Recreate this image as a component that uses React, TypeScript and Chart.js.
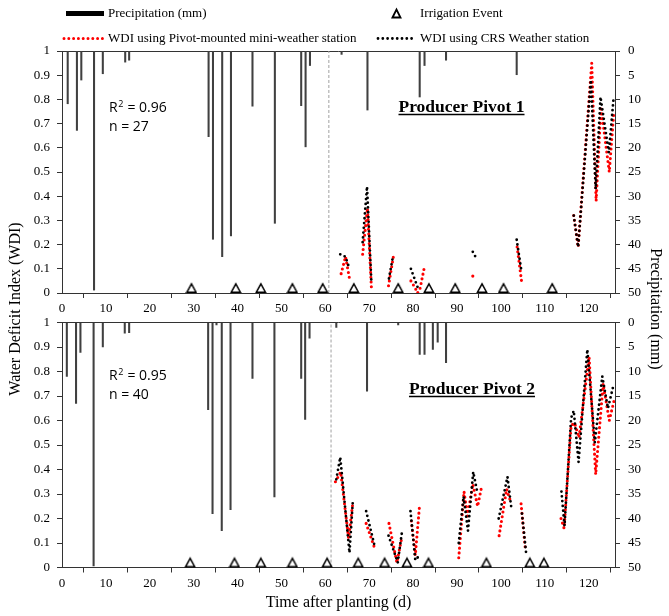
import React, { useEffect, useRef } from 'react';
import { Chart, registerables } from 'chart.js';

Chart.register(...registerables);

type Pt = [number, number] | null;

// ---------------- data ----------------
const dayAxisMax = 126;
const dayStep = 10;
const wdiMax = 1;
const wdiStep = 0.1;
const precipAxisMax = 50;
const precipStep = 5;

// Producer Pivot 1
const pivot1PrecipDays = [1.3, 3.4, 4.4, 7.3, 9.3, 14.4, 15.3, 33.4, 34.4, 36.5, 38.5, 43.4, 48.5, 54.5, 55.5, 56.5, 63.7, 69.6, 81.5, 82.6, 87.5, 103.6];
const pivot1PrecipMm = [10.9, 16.4, 6.0, 49.4, 4.7, 2.3, 1.9, 17.7, 38.9, 42.5, 38.2, 11.4, 35.6, 11.3, 19.8, 3.0, 0.7, 12.2, 9.5, 3.0, 1.9, 4.9];
const pivot1IrrigationDays = [29.5, 39.6, 45.3, 52.5, 59.4, 66.5, 76.6, 83.6, 89.6, 95.7, 100.6, 111.7];
const pivot1WdiPivotStation: Pt[] = [
  [63.6, 0.08], [64.6, 0.15], [65.5, 0.06], null,
  [68.5, 0.16], [69.6, 0.35], [70.5, 0.02], null,
  [74.4, 0.03], [75.5, 0.15], null,
  [79.5, 0.05], [80.5, 0.02], [81.0, 0.0], [81.6, 0.02], [82.6, 0.11], null,
  [93.6, 0.07], null,
  [103.7, 0.19], [104.7, 0.05], null,
  [116.6, 0.32], [117.6, 0.19], [120.7, 0.95], [121.7, 0.38], [122.8, 0.77], [124.7, 0.50], [125.7, 0.74],
];
const pivot1WdiCrsStation: Pt[] = [
  [63.4, 0.16], [64.6, 0.15], [65.5, 0.10], null,
  [68.5, 0.21], [69.5, 0.44], [70.5, 0.04], null,
  [74.5, 0.06], [75.3, 0.14], null,
  [79.5, 0.10], [80.5, 0.05], [81.3, 0.01], null,
  [93.6, 0.17], [94.2, 0.15], null,
  [103.6, 0.22], [104.6, 0.10], null,
  [116.6, 0.32], [117.6, 0.19], [120.5, 0.88], [121.6, 0.43], [122.7, 0.81], [124.6, 0.58], [125.7, 0.81],
];
const pivot1StartDay = 60.8;
const pivot1R2 = '0.96';
const pivot1N = '27';

// Producer Pivot 2
const pivot2PrecipDays = [1.1, 3.2, 4.2, 7.2, 9.3, 14.3, 15.3, 33.3, 34.3, 35.2, 36.4, 38.4, 43.4, 48.4, 54.5, 55.4, 56.4, 62.5, 69.5, 76.6, 81.5, 82.6, 84.5, 85.6, 87.5];
const pivot2PrecipMm = [11.0, 16.5, 6.1, 49.7, 5.0, 2.2, 2.1, 17.8, 39.0, 0.5, 42.5, 38.2, 11.4, 35.6, 11.4, 19.8, 3.2, 1.0, 14.0, 0.5, 6.5, 6.5, 5.5, 4.0, 8.2];
const pivot2IrrigationDays = [29.2, 39.3, 45.3, 52.5, 60.4, 67.5, 73.5, 78.6, 83.5, 96.7, 106.6, 109.8];
const pivot2WdiPivotStation: Pt[] = [
  [62.3, 0.35], [63.5, 0.39], [65.3, 0.12], [66.3, 0.27], null,
  [69.3, 0.18], [71.4, 0.07], null,
  [74.5, 0.18], [76.3, 0.02], [77.4, 0.12], null,
  [79.6, 0.19], [80.5, 0.05], [81.5, 0.26], null,
  [90.4, 0.04], [91.6, 0.31], [92.4, 0.21], [93.6, 0.34], [94.7, 0.25], [95.5, 0.32], null,
  [99.6, 0.13], [101.3, 0.32], [102.2, 0.27], null,
  [104.6, 0.26], [105.6, 0.07], null,
  [113.7, 0.20], [114.4, 0.16], [116.0, 0.58], [116.8, 0.59], [117.8, 0.53], [120.1, 0.86], [121.6, 0.38], [123.3, 0.75], [124.7, 0.60], [125.9, 0.69],
];
const pivot2WdiCrsStation: Pt[] = [
  [62.5, 0.36], [63.4, 0.45], [65.5, 0.06], [66.3, 0.28], null,
  [69.3, 0.23], [71.2, 0.09], null,
  [74.4, 0.13], [76.5, 0.02], [77.5, 0.15], null,
  [79.4, 0.23], [80.5, 0.03], [81.5, 0.05], null,
  [90.4, 0.10], [91.5, 0.29], [92.5, 0.15], [93.7, 0.39], [94.6, 0.31], null,
  [99.5, 0.20], [101.5, 0.37], [102.4, 0.24], null,
  [104.8, 0.22], [105.8, 0.05], null,
  [113.8, 0.31], [114.5, 0.17], [116.0, 0.61], [116.6, 0.64], [117.7, 0.43], [119.7, 0.89], [121.4, 0.51], [123.1, 0.78], [124.4, 0.65], [125.6, 0.74],
];
const pivot2StartDay = 61.3;
const pivot2R2 = '0.95';
const pivot2N = '40';

// ---------------- styling / layout ----------------
const W = 669;
const H = 616;
const SERIF = "'Liberation Serif', 'Times New Roman', serif";
const SANS = "'Open Sans', 'Liberation Sans', sans-serif";
const AX = '#333';
const RED = '#ff0000';
const BLACK = '#000000';
const BAR = '#404040';
const LEFT_W = 62;
const RIGHT_W = 54;
const X_AXIS_H = 23;

interface Panel {
  top: number;
  bottom: number;
  precipDays: number[];
  precipMm: number[];
  irrigation: number[];
  red: Pt[];
  black: Pt[];
  startDay: number;
  r2: string;
  n: string;
  title: string;
  titleX: number;
  titleY: number;
  underlineY: number;
  statsY: number;
  first: boolean;
}

const panels: Panel[] = [
  {
    top: 51, bottom: 293, precipDays: pivot1PrecipDays, precipMm: pivot1PrecipMm,
    irrigation: pivot1IrrigationDays, red: pivot1WdiPivotStation, black: pivot1WdiCrsStation,
    startDay: pivot1StartDay, r2: pivot1R2, n: pivot1N, title: 'Producer Pivot 1',
    titleX: 461.5, titleY: 107.5, underlineY: 114.5, statsY: 108, first: true,
  },
  {
    top: 322.5, bottom: 567.5, precipDays: pivot2PrecipDays, precipMm: pivot2PrecipMm,
    irrigation: pivot2IrrigationDays, red: pivot2WdiPivotStation, black: pivot2WdiCrsStation,
    startDay: pivot2StartDay, r2: pivot2R2, n: pivot2N, title: 'Producer Pivot 2',
    titleX: 472, titleY: 389, underlineY: 396.5, statsY: 376, first: false,
  },
];

function toXY(arr: Pt[]) {
  const out: { x: number; y: number | null }[] = [];
  let lastX = 0;
  for (const p of arr) {
    if (p) { out.push({ x: p[0], y: p[1] }); lastX = p[0]; }
    else out.push({ x: lastX, y: null });
  }
  return out;
}

function isolatedRadius(data: { x: number; y: number | null }[], r: number) {
  return data.map((p, i) => {
    if (p.y === null) return 0;
    const prevGap = i === 0 || data[i - 1].y === null;
    const nextGap = i === data.length - 1 || data[i + 1].y === null;
    return prevGap && nextGap ? r : 0;
  });
}

function triangleImage() {
  const c = document.createElement('canvas');
  c.width = 12;
  c.height = 24;
  const g = c.getContext('2d')!;
  g.beginPath();
  g.moveTo(1.5, 11.2);
  g.lineTo(6, 2.8);
  g.lineTo(10.5, 11.2);
  g.closePath();
  g.fillStyle = '#fff';
  g.fill();
  g.lineWidth = 1.5;
  g.lineJoin = 'miter';
  g.strokeStyle = '#000';
  g.stroke();
  return c;
}

function drawTri(ctx: CanvasRenderingContext2D, cx: number, cy: number) {
  ctx.save();
  ctx.beginPath();
  ctx.moveTo(cx - 4, cy + 4);
  ctx.lineTo(cx, cy - 4);
  ctx.lineTo(cx + 4, cy + 4);
  ctx.closePath();
  ctx.fillStyle = '#fff';
  ctx.fill();
  ctx.lineWidth = 1.8;
  ctx.strokeStyle = '#000';
  ctx.stroke();
  ctx.restore();
}

function dotted(ctx: CanvasRenderingContext2D, x1: number, x2: number, y: number, color: string, w: number) {
  ctx.save();
  ctx.strokeStyle = color;
  ctx.lineWidth = w;
  ctx.lineCap = 'round';
  ctx.setLineDash([0, 4.8]);
  ctx.beginPath();
  ctx.moveTo(x1, y);
  ctx.lineTo(x2, y);
  ctx.stroke();
  ctx.restore();
}

function fmtTick(v: number) {
  return String(Math.round(v * 10) / 10);
}

function makePanel(canvas: HTMLCanvasElement, p: Panel): Chart {
  const tri = triangleImage();
  const redData = toXY(p.red);
  const blackData = toXY(p.black);

  const decor = {
    id: 'decor' + (p.first ? '1' : '2'),
    beforeDatasetsDraw(chart: any) {
      const { ctx, chartArea } = chart;
      ctx.save();
      ctx.strokeStyle = AX;
      ctx.lineWidth = 1;
      const y = Math.round(chartArea.top - 0.5) + 0.5;
      ctx.beginPath();
      ctx.moveTo(chartArea.left, y);
      ctx.lineTo(chartArea.right + 0.5, y);
      ctx.stroke();
      ctx.restore();
    },
    afterDraw(chart: any) {
      const ctx: CanvasRenderingContext2D = chart.ctx;
      ctx.save();
      ctx.fillStyle = '#000';
      ctx.textBaseline = 'middle';
      ctx.textAlign = 'left';
      // stats
      ctx.font = `14px ${SANS}`;
      const x0 = 109;
      ctx.fillText('R', x0, p.statsY);
      const rw = ctx.measureText('R').width;
      ctx.font = `9px ${SANS}`;
      ctx.fillText('2', x0 + rw + 0.5, p.statsY - 4);
      const sw = ctx.measureText('2').width;
      ctx.font = `14px ${SANS}`;
      ctx.fillText(' = ' + p.r2, x0 + rw + sw + 1, p.statsY);
      ctx.fillText('n = ' + p.n, x0, p.statsY + 19.5);
      // panel title
      ctx.font = `bold 17.5px ${SERIF}`;
      ctx.textAlign = 'center';
      ctx.fillText(p.title, p.titleX, p.titleY);
      const tw = ctx.measureText(p.title).width;
      ctx.strokeStyle = '#000';
      ctx.lineWidth = 1.3;
      ctx.beginPath();
      ctx.moveTo(p.titleX - tw / 2, p.underlineY);
      ctx.lineTo(p.titleX + tw / 2, p.underlineY);
      ctx.stroke();

      if (p.first) {
        // legend
        ctx.textAlign = 'left';
        ctx.font = `13px ${SERIF}`;
        ctx.fillRect(66, 11, 38, 5);
        ctx.fillText('Precipitation (mm)', 108, 13.5);
        drawTri(ctx, 396.5, 13.5);
        ctx.fillText('Irrigation Event', 420, 13.5);
        dotted(ctx, 64, 104, 38.5, RED, 3);
        ctx.fillText('WDI using Pivot-mounted mini-weather station', 108, 38.5);
        dotted(ctx, 378, 416, 38.5, BLACK, 2.8);
        ctx.fillText('WDI using CRS Weather station', 420, 38.5);
        // axis titles spanning both panels
        ctx.font = `16px ${SERIF}`;
        ctx.textAlign = 'center';
        ctx.save();
        ctx.translate(16, 309);
        ctx.rotate(-Math.PI / 2);
        ctx.fillText('Water Deficit Index (WDI)', 0, 0);
        ctx.restore();
        ctx.save();
        ctx.translate(655, 309);
        ctx.rotate(Math.PI / 2);
        ctx.fillText('Precipitation (mm)', 0, 0);
        ctx.restore();
      } else {
        ctx.font = `16px ${SERIF}`;
        ctx.textAlign = 'center';
        ctx.fillText('Time after planting (d)', (chart.chartArea.left + chart.chartArea.right) / 2, 603);
      }
      ctx.restore();
    },
  };

  const tickFont = { family: SERIF, size: 13 };
  const grid = { drawOnChartArea: false, drawTicks: true, tickLength: 5, color: AX, lineWidth: 1 };
  const border = { display: true, color: AX, width: 1 };

  return new Chart(canvas, {
    type: 'scatter',
    data: {
      datasets: [
        {
          type: 'line',
          label: 'WDI using CRS Weather station',
          data: blackData,
          xAxisID: 'x', yAxisID: 'y',
          borderColor: BLACK, borderWidth: 2.8, borderDash: [0, 4.8], borderCapStyle: 'round',
          pointRadius: isolatedRadius(blackData, 1.5), pointBackgroundColor: BLACK, pointBorderWidth: 0,
          spanGaps: false, tension: 0, order: 1,
        },
        {
          type: 'line',
          label: 'WDI using Pivot-mounted mini-weather station',
          data: redData,
          xAxisID: 'x', yAxisID: 'y',
          borderColor: RED, borderWidth: 3.1, borderDash: [0, 4.8], borderCapStyle: 'round',
          pointRadius: isolatedRadius(redData, 1.6), pointBackgroundColor: RED, pointBorderWidth: 0,
          spanGaps: false, tension: 0, order: 2,
        },
        {
          type: 'scatter',
          label: 'Irrigation Event',
          data: p.irrigation.map((d) => ({ x: d, y: 0 })),
          xAxisID: 'x', yAxisID: 'y',
          pointStyle: tri as any, pointRadius: 6, clip: false as any, order: 3,
        },
        {
          type: 'line',
          label: 'start',
          data: [{ x: p.startDay, y: 0 }, { x: p.startDay, y: wdiMax }],
          xAxisID: 'x', yAxisID: 'y',
          borderColor: '#a0a0a0', borderWidth: 1, borderDash: [3, 2], pointRadius: 0, order: 4,
        },
        {
          type: 'bar',
          label: 'Precipitation (mm)',
          data: p.precipDays.map((d, i) => ({ x: d, y: p.precipMm[i] })),
          xAxisID: 'x', yAxisID: 'yP',
          backgroundColor: BAR, borderWidth: 0, barThickness: 1.4, grouped: false, order: 5,
        } as any,
      ],
    } as any,
    options: {
      animation: false,
      responsive: false,
      maintainAspectRatio: false,
      devicePixelRatio: 1,
      events: [],
      layout: { padding: { top: p.top, bottom: H - p.bottom - X_AXIS_H, left: 0, right: 0 } },
      plugins: { legend: { display: false }, tooltip: { enabled: false } },
      scales: {
        x: {
          type: 'linear', position: 'bottom', min: 0, max: dayAxisMax, offset: false,
          ticks: { stepSize: dayStep, includeBounds: false, autoSkip: false, maxRotation: 0, padding: 3, color: '#000', font: tickFont },
          grid, border,
          afterFit: (s: any) => { s.height = X_AXIS_H; },
        },
        y: {
          type: 'linear', position: 'left', min: 0, max: wdiMax,
          ticks: { stepSize: wdiStep, includeBounds: false, padding: 7, color: '#000', font: tickFont, callback: (v: any) => fmtTick(Number(v)) },
          grid, border,
          afterFit: (s: any) => { s.width = LEFT_W; },
        },
        yP: {
          type: 'linear', position: 'right', min: 0, max: precipAxisMax, reverse: true,
          ticks: { stepSize: precipStep, padding: 8, color: '#000', font: tickFont },
          grid, border,
          afterFit: (s: any) => { s.width = RIGHT_W; },
        },
      },
    } as any,
    plugins: [decor as any],
  });
}

export default function App() {
  const ref1 = useRef<HTMLCanvasElement>(null);
  const ref2 = useRef<HTMLCanvasElement>(null);
  useEffect(() => {
    const c1 = makePanel(ref1.current!, panels[0]);
    const c2 = makePanel(ref2.current!, panels[1]);
    return () => {
      c1.destroy();
      c2.destroy();
    };
  }, []);
  return (
    <div style={{ position: 'absolute', left: 0, top: 0, width: W, height: H, background: '#fff' }}>
      <canvas ref={ref1} width={W} height={H} style={{ position: 'absolute', left: 0, top: 0, width: W, height: H }} />
      <canvas ref={ref2} width={W} height={H} style={{ position: 'absolute', left: 0, top: 0, width: W, height: H }} />
    </div>
  );
}
